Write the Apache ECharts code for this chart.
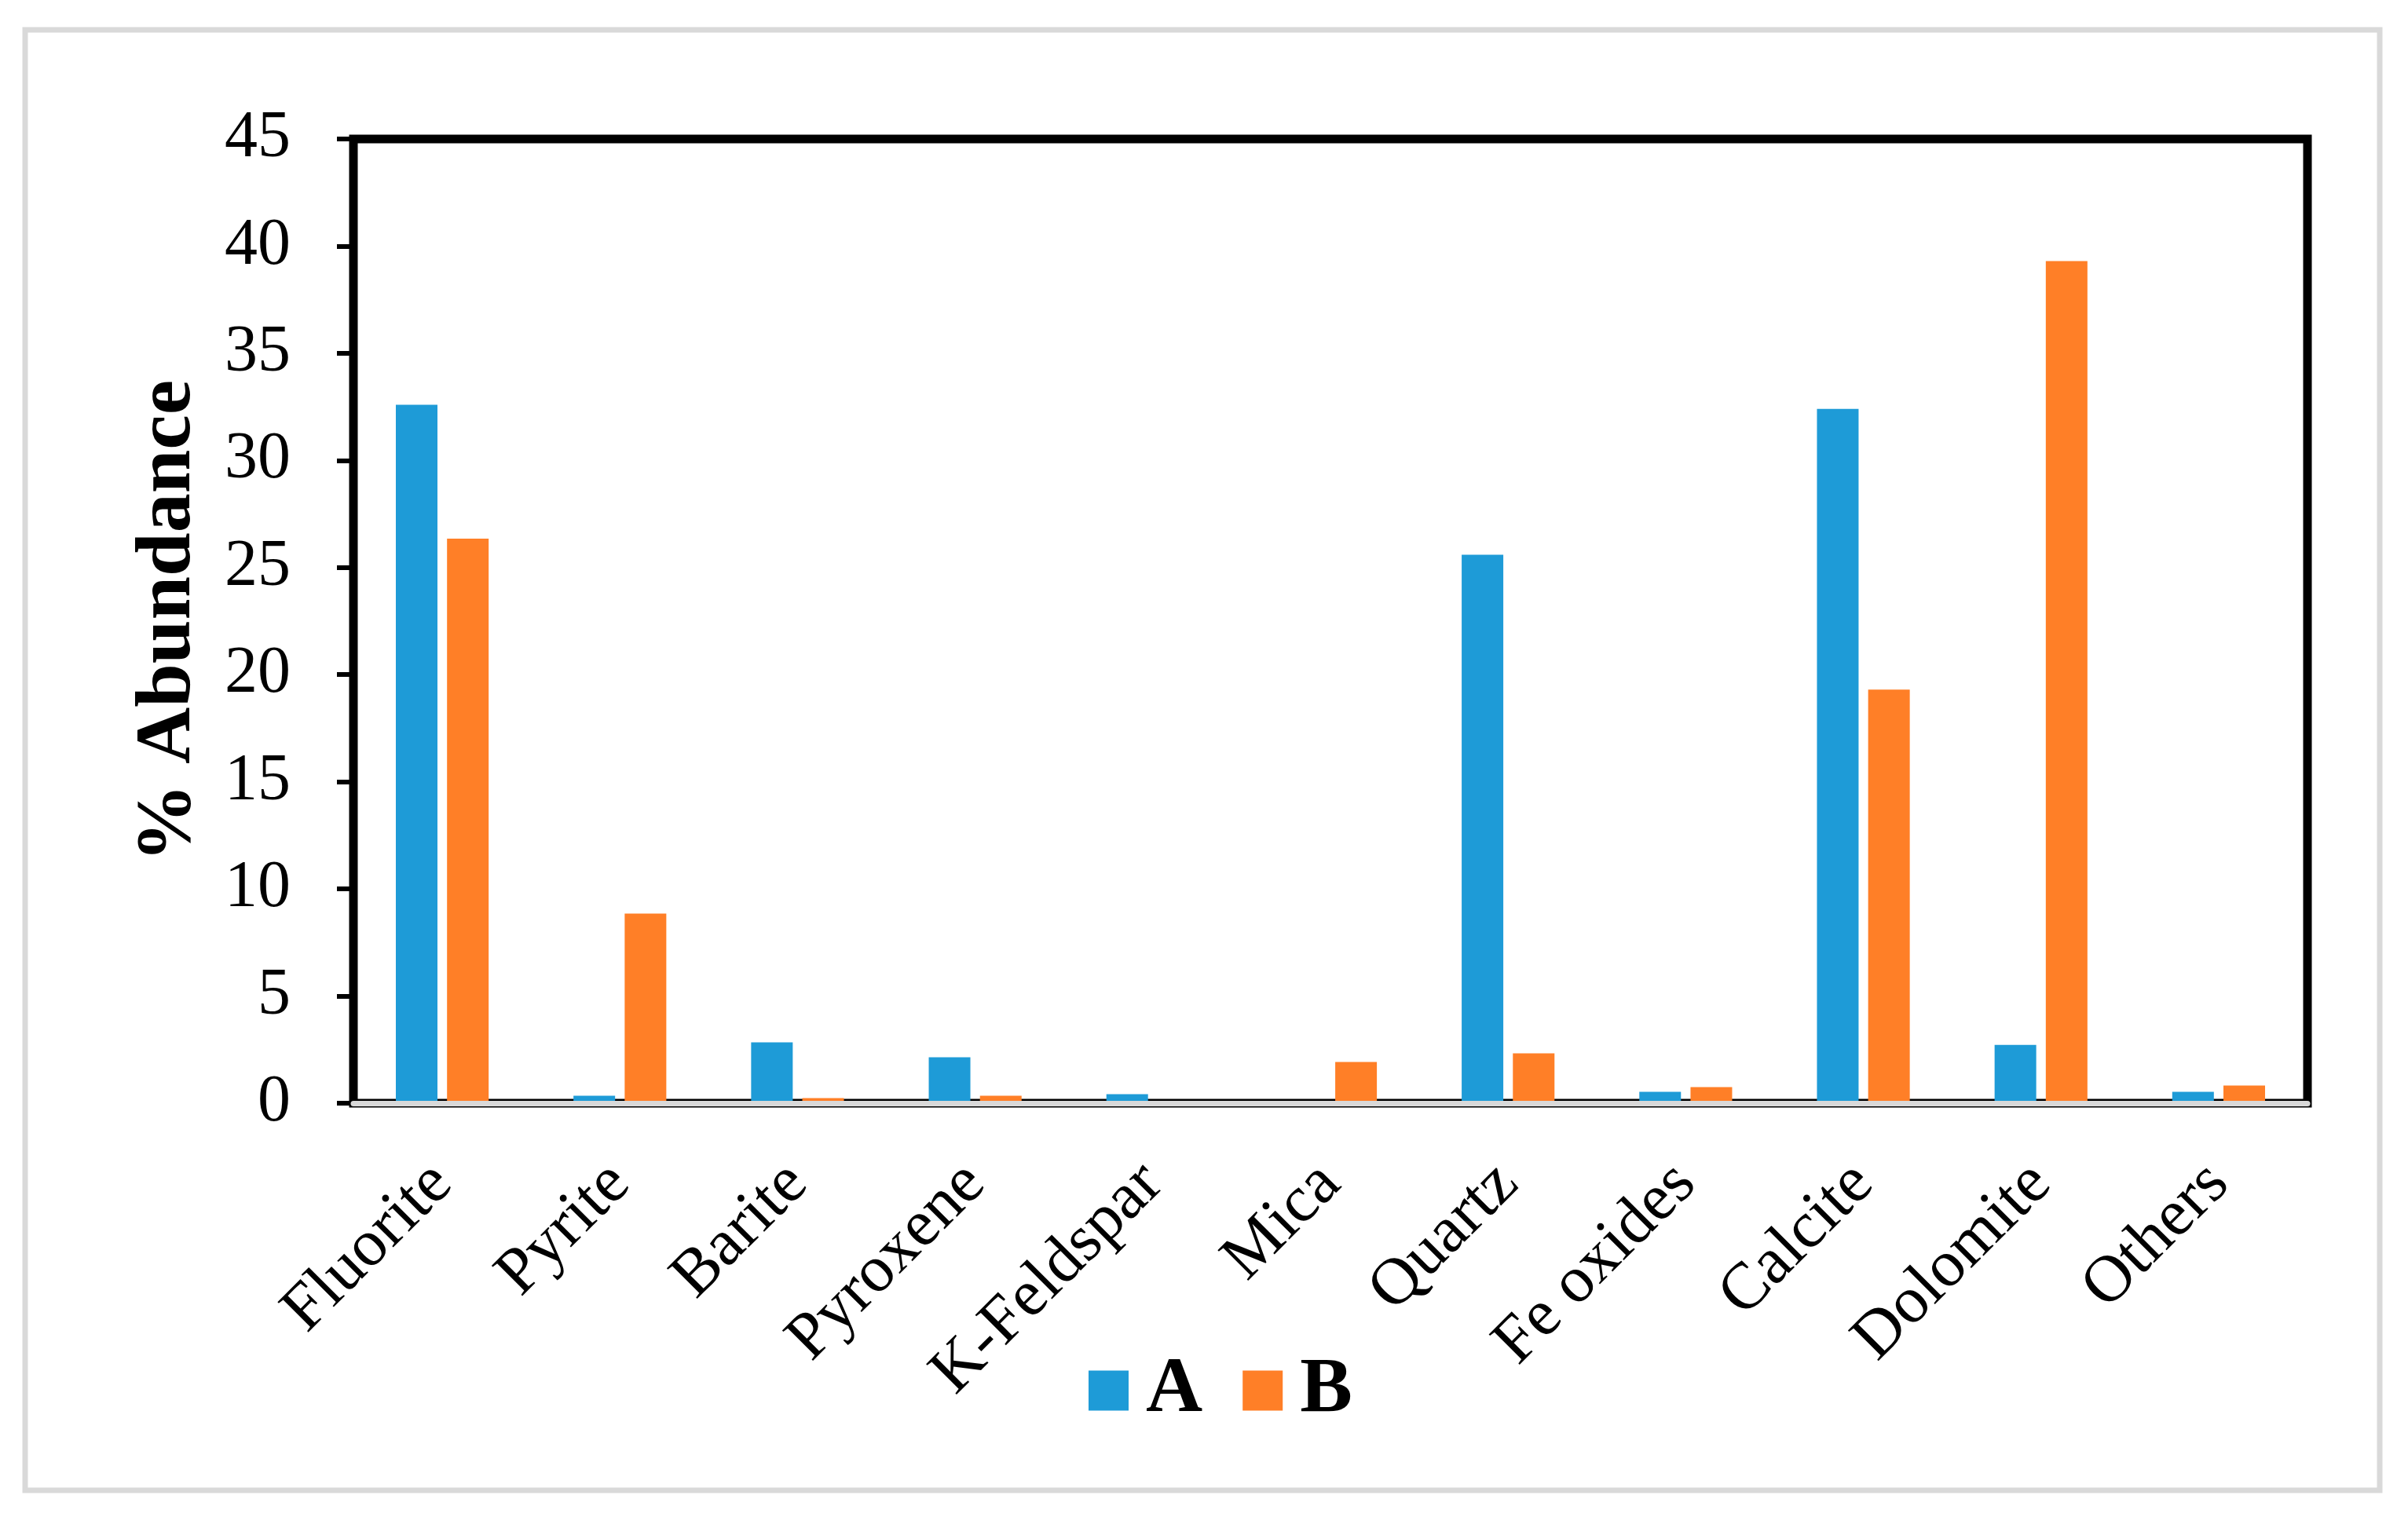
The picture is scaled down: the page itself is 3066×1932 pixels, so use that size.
<!DOCTYPE html>
<html>
<head>
<meta charset="utf-8">
<script src="https://cdn.jsdelivr.net/npm/echarts@6/dist/echarts.min.js"></script>
<style>
  html, body { margin: 0; padding: 0; background: #fff; }
  #chart { width: 3066px; height: 1932px; }
</style>
</head>
<body>
<div id="chart"></div>
<script>
// mineral categories along the x axis
const minerals = ['Fluorite', 'Pyrite', 'Barite', 'Pyroxene', 'K-Feldspar', 'Mica', 'Quartz', 'Fe oxides', 'Calcite', 'Dolomite', 'Others']
// % abundance per sample
const sampleA = [32.6, 0.35, 2.84, 2.14, 0.42, 0, 25.6, 0.53, 32.4, 2.72, 0.53]
const sampleB = [26.35, 8.85, 0.24, 0.35, 0, 1.92, 2.33, 0.75, 19.3, 39.3, 0.82]
const seriesNames = ['A', 'B']
const yTicks = { min: 0, max: 45, step: 5 }

const serif = "'Liberation Serif', 'Times New Roman', serif"
const chart = echarts.init(document.getElementById('chart'))
const option = {
  animation: false,
  backgroundColor: '#fff',
  color: ['#1E9BD7', '#FF7F27'],
  graphic: [{
    type: 'rect',
    shape: { x: 32, y: 38, width: 2998, height: 1860 },
    style: { fill: 'none', stroke: '#d9d9d9', lineWidth: 7 },
    z: -1
  }],
  grid: {
    left: 450,
    right: 128,
    top: 177,
    bottom: 527,
    show: true,
    borderColor: '#000',
    borderWidth: 11,
    backgroundColor: 'transparent'
  },
  legend: {
    data: seriesNames,
    left: 1381,
    top: 1716,
    itemWidth: 51,
    itemHeight: 51,
    itemGap: 51,
    icon: 'rect',
    textStyle: {
      fontFamily: serif,
      fontWeight: 'bold',
      fontSize: 100,
      color: '#000',
      lineHeight: 51,
      padding: [0, 0, 0, 17]
    }
  },
  xAxis: {
    type: 'category',
    data: minerals,
    z: 5,
    axisLine: { lineStyle: { color: '#d9d9d9', width: 7 } },
    axisTick: { show: false },
    axisLabel: {
      rotate: 45,
      margin: 90,
      interval: 0,
      color: '#000',
      fontFamily: serif,
      fontSize: 84
    }
  },
  yAxis: {
    type: 'value',
    min: yTicks.min,
    max: yTicks.max,
    interval: yTicks.step,
    name: '% Abundance',
    nameLocation: 'middle',
    nameGap: 185,
    nameTextStyle: {
      fontFamily: serif,
      fontWeight: 'bold',
      fontSize: 100,
      color: '#000'
    },
    splitLine: { show: false },
    axisLine: { show: true, lineStyle: { color: '#000', width: 10 } },
    axisTick: { show: true, length: 21, lineStyle: { color: '#000', width: 6 } },
    axisLabel: {
      margin: 80,
      color: '#000',
      fontFamily: serif,
      fontSize: 84
    }
  },
  series: [
    {
      name: seriesNames[0],
      type: 'bar',
      data: sampleA,
      barWidth: 53,
      barGap: '23%'
    },
    {
      name: seriesNames[1],
      type: 'bar',
      data: sampleB,
      barWidth: 53,
      barGap: '23%'
    }
  ]
}
chart.setOption(option)
</script>
</body>
</html>
